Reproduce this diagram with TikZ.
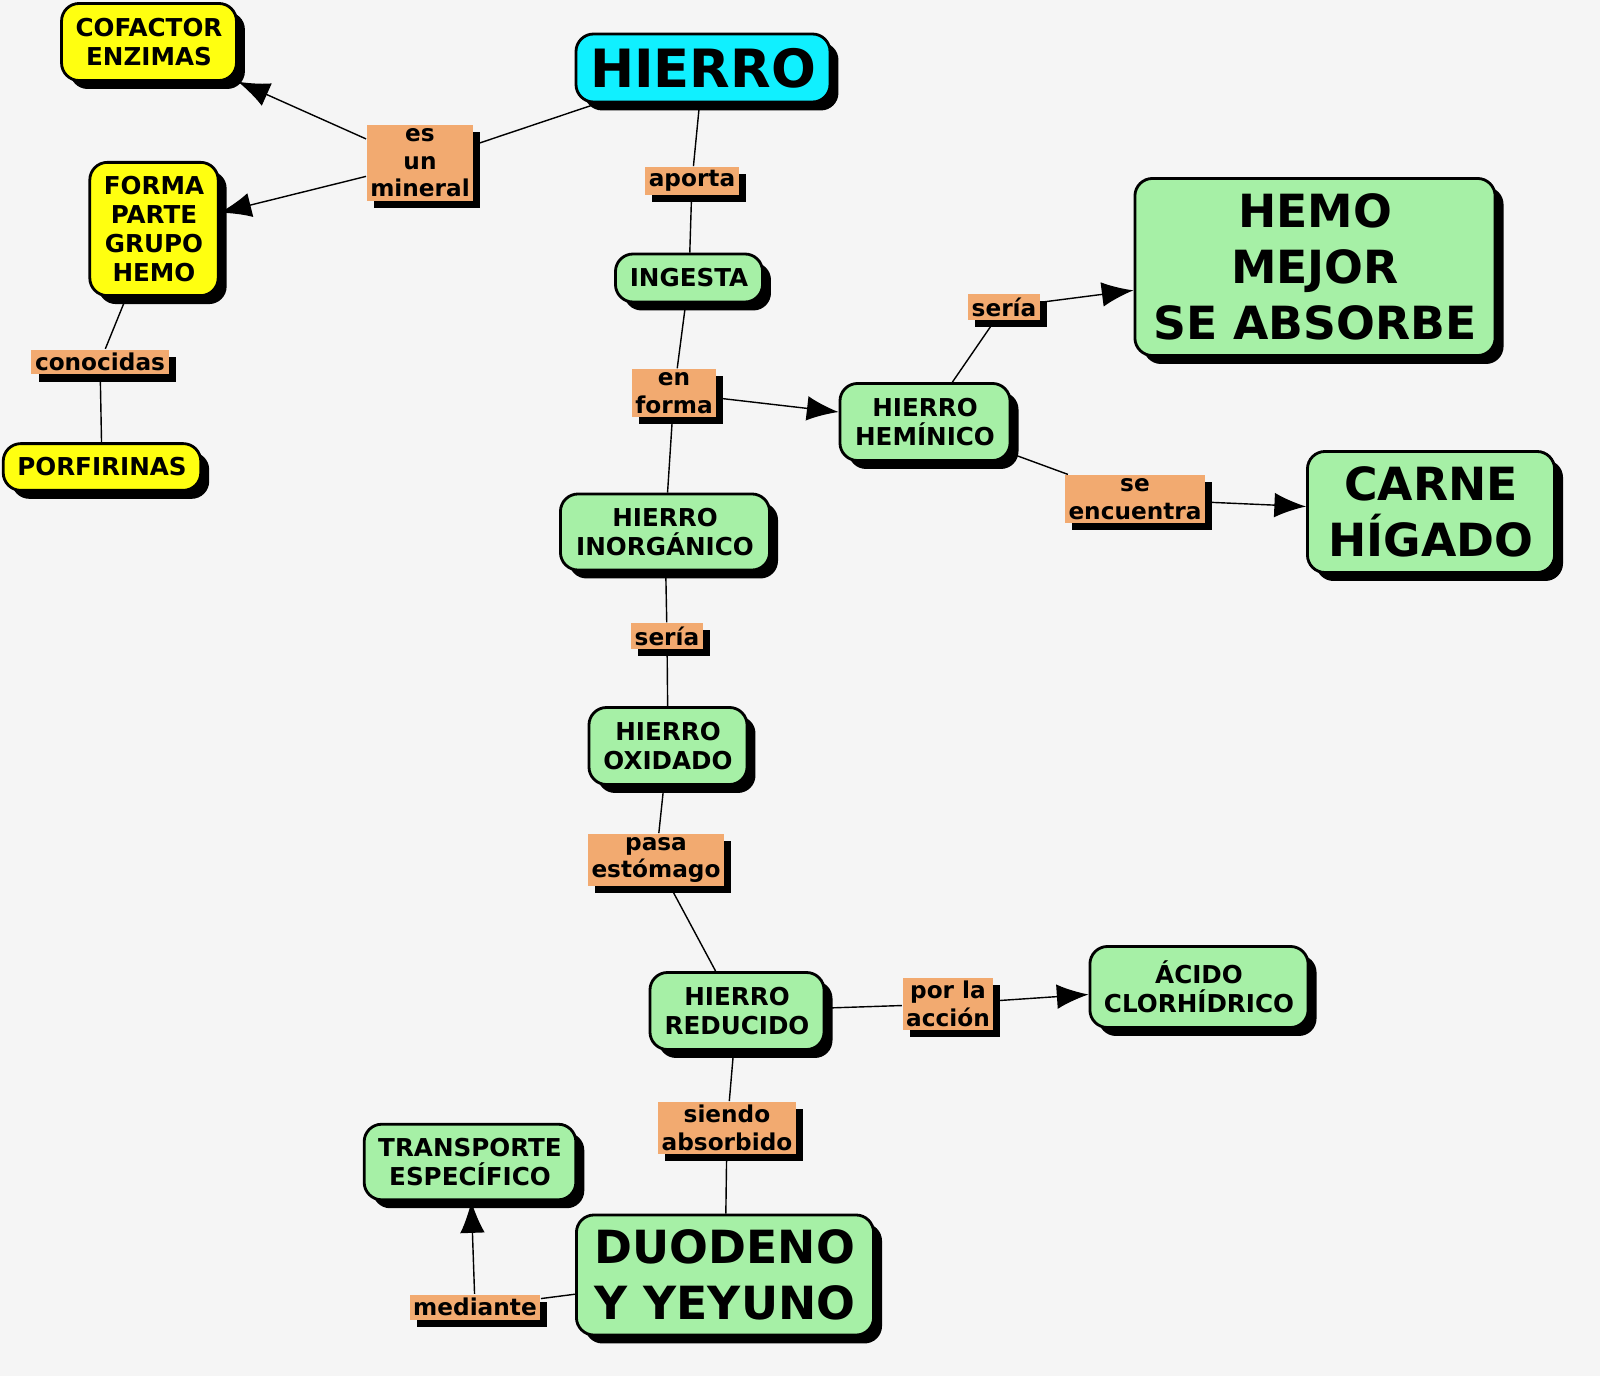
\documentclass[tikz,border=0pt]{standalone}
\usepackage{fontspec}
\setmainfont{DejaVu Sans}
\usetikzlibrary{arrows.meta,shadows}
\definecolor{bgcol}{HTML}{F5F5F5}
\definecolor{conc}{HTML}{A6F0A6}
\definecolor{yel}{HTML}{FFFF10}
\definecolor{cyn}{HTML}{10F0FF}
\definecolor{lab}{HTML}{F2AA70}
\tikzset{
  >={Latex[length=9pt,width=7pt]},
  concept/.style={draw=black, thick, fill=conc, rounded corners=5pt, align=center,
    font=\fontsize{7}{8.2}\selectfont\bfseries, inner sep=4pt,
    drop shadow={shadow xshift=2.4pt, shadow yshift=-2.4pt, fill=black, opacity=1}},
  yconcept/.style={concept, fill=yel},
  big/.style={font=\fontsize{13}{16}\selectfont\bfseries},
  linklab/.style={fill=lab, align=center, inner sep=1pt,
    font=\fontsize{6.6}{7.8}\selectfont\bfseries,
    drop shadow={shadow xshift=2pt, shadow yshift=-2pt, fill=black, opacity=1}},
}
\begin{document}
\begin{tikzpicture}[x=0.01cm, y=-0.01cm]
  \fill[bgcol] (0,0) rectangle (1600,1376);
  \useasboundingbox (0,0) rectangle (1600,1376);
  % concepts
  \node[concept, fill=cyn, font=\fontsize{15}{17}\selectfont\bfseries, minimum width=2.37cm, minimum height=0.63cm] (hierro) at (703,68) {HIERRO};
  \node[yconcept, minimum width=1.72cm, minimum height=0.77cm] (cofactor) at (149,42) {COFACTOR\\ENZIMAS};
  \node[yconcept, minimum width=1.24cm, minimum height=1.33cm] (forma) at (154,229) {FORMA\\PARTE\\GRUPO\\HEMO};
  \node[yconcept, minimum width=1.97cm, minimum height=0.46cm] (porf) at (102,467) {PORFIRINAS};
  \node[concept, minimum width=1.47cm, minimum height=0.48cm] (ingesta) at (689,278) {INGESTA};
  \node[concept, minimum width=1.7cm, minimum height=0.77cm] (hem) at (925,422) {HIERRO\\HEMÍNICO};
  \node[concept, big, minimum width=3.6cm, minimum height=1.77cm] (hemo) at (1315,267) {HEMO\\MEJOR\\SE ABSORBE};
  \node[concept, big, minimum width=2.47cm, minimum height=1.21cm] (carne) at (1431,512) {CARNE\\HÍGADO};
  \node[concept, minimum width=2.09cm, minimum height=0.76cm] (inorg) at (665,532) {HIERRO\\INORGÁNICO};
  \node[concept, minimum width=1.58cm, minimum height=0.77cm] (oxid) at (668,746) {HIERRO\\OXIDADO};
  \node[concept, minimum width=1.74cm, minimum height=0.77cm] (reduc) at (737,1011) {HIERRO\\REDUCIDO};
  \node[concept, minimum width=2.18cm, minimum height=0.81cm] (acido) at (1199,987) {ÁCIDO\\CLORHÍDRICO};
  \node[concept, big, minimum width=2.97cm, minimum height=1.2cm] (duod) at (725,1275) {DUODENO\\Y YEYUNO};
  \node[concept, minimum width=2.05cm, minimum height=0.75cm] (transp) at (470,1162) {TRANSPORTE\\ESPECÍFICO};
  % link labels
  \node[linklab, minimum width=1.03cm] (esun) at (420,163) {es\\un\\mineral};
  \node[linklab] (conoc) at (100,362) {conocidas};
  \node[linklab] (aporta) at (692,181) {aporta};
  \node[linklab] (enforma) at (674,393) {en\\forma};
  \node[linklab] (seria1) at (1004,307) {sería};
  \node[linklab] (seenc) at (1135,499) {se\\encuentra};
  \node[linklab] (seria2) at (667,636) {sería};
  \node[linklab] (pasa) at (656,860) {pasa\\estómago};
  \node[linklab] (porla) at (948,1004) {por la\\acción};
  \node[linklab] (siendo) at (727,1128) {siendo\\absorbido};
  \node[linklab] (mediante) at (475,1307) {mediante};
  % connectors
  \draw (hierro) -- (esun);
  \draw[->] (esun) -- (cofactor);
  \draw[->] (esun) -- (forma);
  \draw (forma) -- (conoc);
  \draw (conoc) -- (porf);
  \draw (hierro) -- (aporta);
  \draw (aporta) -- (ingesta);
  \draw (ingesta) -- (enforma);
  \draw[->] (enforma) -- (hem);
  \draw (enforma) -- (inorg);
  \draw (hem) -- (seria1);
  \draw[->] (seria1) -- (hemo);
  \draw (hem) -- (seenc);
  \draw[->] (seenc) -- (carne);
  \draw (inorg) -- (seria2);
  \draw (seria2) -- (oxid);
  \draw (oxid) -- (pasa);
  \draw (pasa) -- (reduc);
  \draw (reduc) -- (porla);
  \draw[->] (porla) -- (acido);
  \draw (reduc) -- (siendo);
  \draw (siendo) -- (duod);
  \draw (duod) -- (mediante);
  \draw[->] (mediante) -- (transp);
\end{tikzpicture}
\end{document}
